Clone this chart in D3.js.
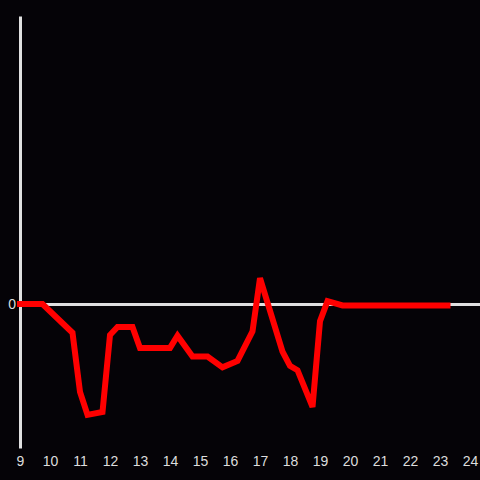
<!DOCTYPE html>
<html>
<head>
<meta charset="utf-8">
<script src="https://cdn.jsdelivr.net/npm/d3@7"></script>
<style>
  body { margin: 0; background: #050307; }
  svg { display: block; }
</style>
</head>
<body>
<div id="chrt"></div>
<script>
// hour of day and value
const hours = [9, 9.75, 10.75, 11, 11.25, 11.75, 12, 12.25, 12.75, 13, 14, 14.25, 14.75, 15.25, 15.75, 16.25, 16.75, 17, 17.75, 18, 18.25, 18.75, 19, 19.25, 19.75, 23.25];
const values = [0, 0, -0.2, -0.61, -0.77, -0.75, -0.215, -0.16, -0.16, -0.305, -0.305, -0.22, -0.365, -0.365, -0.44, -0.395, -0.19, 0.18, -0.33, -0.43, -0.46, -0.715, -0.12, 0.02, -0.01, -0.01];
const xTicks = [9, 10, 11, 12, 13, 14, 15, 16, 17, 18, 19, 20, 21, 22, 23, 24];
const yTicks = [0];

const width = 480, height = 480;
const margin = { top: 16, right: 10, bottom: 32, left: 20 };
const innerW = width - margin.left - margin.right;
const innerH = height - margin.top - margin.bottom;

const scaleX = d3.scaleLinear().domain([9, 24]).range([0, innerW]);
const scaleY = d3.scaleLinear().domain([-1, 2]).range([innerH, 0]);

const svg = d3.select('#chrt').append('svg')
    .attr('width', width)
    .attr('height', height)
    .style('background', '#050307');

const chrt = svg.append('g')
    .attr('transform', 'translate(' + margin.left + ',' + margin.top + ')');

// y axis: vertical line plus zero line stretching right
const yAxis = chrt.append('g')
    .call(d3.axisLeft(scaleY).tickValues(yTicks).tickFormat(d3.format('d'))
        .tickSize(-(width - margin.left)).tickSizeOuter(0).tickPadding(4));
yAxis.select('.domain').attr('stroke', '#e0e0e0').attr('stroke-width', 3);
yAxis.selectAll('.tick line').attr('stroke', '#e0e0e0').attr('stroke-width', 3);
yAxis.selectAll('.tick text')
    .attr('fill', '#dddddd')
    .style('font-family', '"Liberation Sans", Arial, sans-serif')
    .style('font-size', '14px');

// x axis: labels only
const xAxis = chrt.append('g')
    .attr('transform', 'translate(0,' + innerH + ')')
    .call(d3.axisBottom(scaleX).tickValues(xTicks).tickSize(0).tickPadding(8).tickFormat(d3.format('d')));
xAxis.select('.domain').remove();
xAxis.selectAll('.tick text')
    .attr('fill', '#dddddd')
    .style('font-family', '"Liberation Sans", Arial, sans-serif')
    .style('font-size', '14px');

const pts = hours.map((h, i) => [h, values[i]]);
chrt.append('path')
    .datum(pts)
    .attr('fill', 'none')
    .attr('stroke', '#ff0000')
    .attr('stroke-width', 6)
    .attr('stroke-linecap', 'square')
    .attr('d', d3.line().x((d) => scaleX(d[0])).y((d) => scaleY(d[1])));
</script>
</body>
</html>
